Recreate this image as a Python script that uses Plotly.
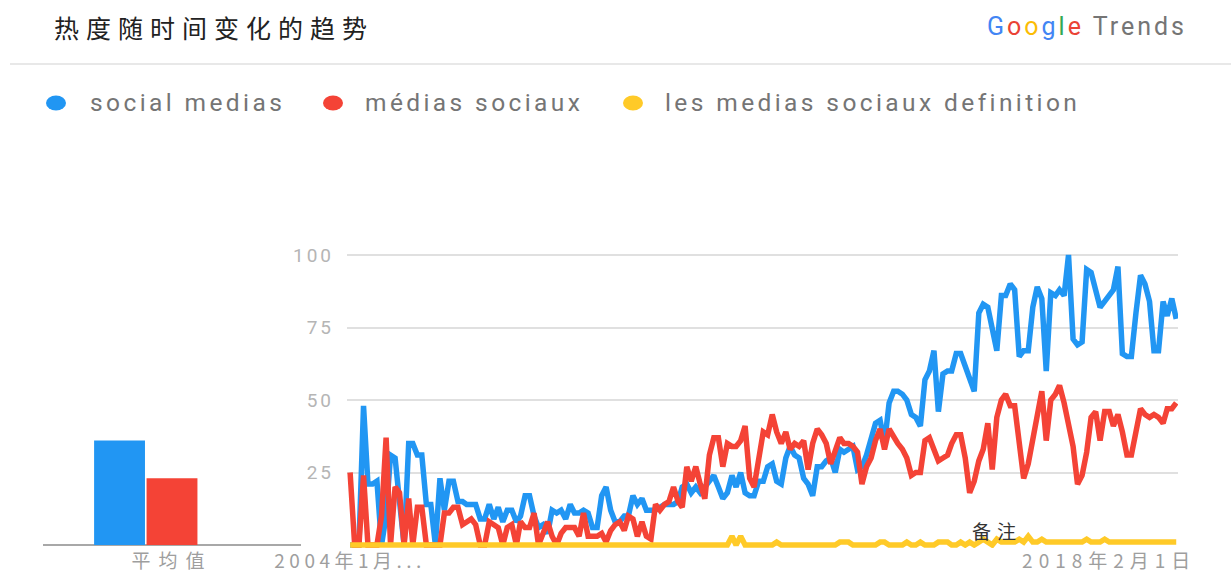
import pandas as pd
import plotly.graph_objects as go

# ---------------- data ----------------
months = pd.date_range("2004-01-01", periods=185, freq="MS")

social_medias = [
    0, 0, 0, 48, 21, 21, 22, 0, 10, 31, 30, 15, 0, 35, 35, 31, 31, 14, 14, 0,
    23, 12, 22, 22, 15, 15, 14, 14, 14, 9, 9, 14, 9, 13, 8, 12, 12, 8, 10, 17,
    17, 10, 6, 7, 4, 12, 11, 12, 9, 14, 11, 11, 12, 11, 6, 6, 17, 20, 12, 8,
    8, 10, 10, 17, 14, 16, 12, 12, 12, 13, 14, 14, 14, 15, 20, 21, 18, 20, 18, 20,
    22, 24, 20, 16, 18, 24, 20, 25, 18, 17, 17, 22, 22, 27, 28, 22, 21, 30, 34, 31,
    30, 23, 21, 17, 27, 27, 29, 30, 25, 33, 32, 33, 34, 26, 27, 31, 36, 42, 43, 35,
    49, 53, 53, 52, 50, 45, 44, 41, 57, 60, 67, 46, 59, 60, 60, 66, 66, 62, 57, 53,
    80, 83, 82, 74, 67, 86, 86, 90, 88, 65, 67, 67, 82, 89, 85, 60, 87, 86, 88, 86,
    100, 71, 69, 70, 95, 94, 88, 82, 84, 86, 88, 96, 66, 65, 65, 80, 93, 90, 84, 67,
    67, 84, 79, 85, 78,
]

medias_sociaux = [
    25, 0, 0, 24, 0, 0, 0, 10, 37, 0, 20, 18, 0, 16, 0, 13, 13, 0, 0, 0,
    0, 11, 11, 13, 13, 7, 8, 9, 7, 0, 0, 8, 7, 6, 0, 6, 7, 0, 8, 6,
    6, 11, 0, 4, 8, 3, 0, 4, 6, 6, 6, 3, 11, 3, 3, 3, 4, 1, 5, 7,
    8, 5, 10, 9, 3, 8, 3, 2, 14, 12, 14, 15, 20, 15, 13, 27, 22, 27, 21, 16,
    31, 37, 37, 27, 35, 34, 34, 36, 41, 23, 20, 30, 39, 38, 45, 39, 35, 39, 33, 35,
    34, 36, 26, 35, 40, 38, 35, 28, 32, 37, 35, 35, 34, 32, 21, 27, 30, 36, 40, 33,
    40, 37, 35, 33, 30, 24, 25, 25, 36, 37, 33, 29, 30, 31, 35, 38, 38, 30, 18, 22,
    29, 33, 42, 26, 44, 50, 52, 48, 48, 35, 23, 28, 36, 46, 53, 36, 50, 52, 55, 49,
    41, 34, 21, 24, 32, 44, 46, 36, 46, 46, 41, 45, 39, 31, 31, 38, 47, 45, 44, 45,
    44, 42, 47, 47, 49,
]

definition = [
    0, 0, 0, 0, 0, 0, 0, 0, 0, 0, 0, 0, 0, 0, 0, 0, 0, 0, 0, 0,
    0, 0, 0, 0, 0, 0, 0, 0, 0, 0, 0, 0, 0, 0, 0, 0, 0, 0, 0, 0,
    0, 0, 0, 0, 0, 0, 0, 0, 0, 0, 0, 0, 0, 0, 0, 0, 0, 0, 0, 0,
    0, 0, 0, 0, 0, 0, 0, 0, 0, 0, 0, 0, 0, 0, 0, 0, 0, 0, 0, 0,
    0, 0, 0, 0, 0, 3, 0, 3, 0, 0, 0, 0, 0, 0, 0, 1, 0, 0, 0, 0,
    0, 0, 0, 0, 0, 0, 0, 0, 0, 1, 1, 1, 0, 0, 0, 0, 0, 0, 1, 1,
    0, 0, 0, 0, 1, 0, 0, 1, 0, 0, 0, 1, 1, 1, 0, 0, 1, 0, 1, 0,
    1, 2, 1, 0, 2, 1, 1, 1, 1, 2, 1, 3, 1, 1, 2, 1, 1, 1, 1, 1,
    1, 1, 1, 1, 2, 1, 1, 1, 2, 1, 1, 1, 1, 1, 1, 1, 1, 1, 1, 1,
    1, 1, 1, 1, 1,
]

series_names = ["social medias", "médias sociaux", "les medias sociaux definition"]
series_colors = ["#2196F3", "#F44336", "#FFCA28"]

avg_category = ["平均值"]
avg_values = [36, 23, 0]

x_tick_vals = ["2004-01-01", "2018-02-01"]
x_tick_text = ["2004年1月...", "2018年2月1日"]
y_tick_vals = [25, 50, 75, 100]

assert len(social_medias) == len(medias_sociaux) == len(definition) == len(months)

# ---------------- figure ----------------
W, H = 1231, 574


def px(x):
    return x / W


def py(y):
    return 1 - y / H


def spaced(text, ls):
    return f'<span style="letter-spacing:{ls}px">{text}</span>'


fig = go.Figure()

# average bars (left)
for name, val, col in zip(series_names, avg_values, series_colors):
    fig.add_trace(go.Bar(x=avg_category, y=[val], name=name, marker_color=col,
                         marker_line_width=0, xaxis="x", yaxis="y",
                         showlegend=False, hoverinfo="skip"))

# time series lines
for name, vals, col in zip(series_names, [social_medias, medias_sociaux, definition], series_colors):
    fig.add_trace(go.Scatter(x=months, y=vals, name=name, mode="lines",
                             line=dict(color=col, width=5.5),
                             xaxis="x2", yaxis="y2", showlegend=False))

y_lo, y_hi = -1.0, 101.5
y_dom = [py(545 - y_lo * 2.9), py(255 - (y_hi - 100) * 2.9)]

fig.update_layout(
    template="none",
    width=W, height=H, autosize=False,
    margin=dict(l=0, r=0, t=0, b=0, pad=0),
    paper_bgcolor="white", plot_bgcolor="white",
    showlegend=False,
    barmode="group", bargap=0.39, bargroupgap=0.03,
    xaxis=dict(domain=[px(43), px(301)], type="category", range=[-0.5, 0.5],
               automargin=False, anchor="y",
               showgrid=False, showline=False, ticks="", zeroline=False,
               tickfont=dict(family="Noto Sans CJK SC", size=19, color="#9e9e9e"),
               tickvals=avg_category,
               ticktext=[spaced(t, 8) for t in avg_category]),
    yaxis=dict(domain=y_dom, range=[y_lo, y_hi], showgrid=False, automargin=False,
               anchor="x", showline=False, ticks="",
               showticklabels=False, zeroline=True, zerolinecolor="#a8a8a8",
               zerolinewidth=2),
    xaxis2=dict(domain=[px(347), px(1178)], type="date",
                range=["2003-12-11", "2019-05-13"], anchor="y2", automargin=False,
                showgrid=False, showline=False, ticks="", zeroline=False,
                tickvals=x_tick_vals,
                ticktext=[spaced(x_tick_text[0], 4.5), spaced(x_tick_text[1], 6)],
                tickfont=dict(family="Noto Sans CJK SC", size=19, color="#9e9e9e")),
    yaxis2=dict(domain=y_dom, range=[y_lo, y_hi], anchor="x2", automargin=False,
                tickvals=y_tick_vals, ticktext=[spaced(str(v), 3) for v in y_tick_vals],
                showgrid=True, gridcolor="#e0e0e0", gridwidth=1.5, showline=False,
                zeroline=False, ticks="", ticklabelstandoff=12,
                tickfont=dict(family="Roboto", size=19, color="#b5b5b5")),
)

shapes = []
annotations = []

# separator line
shapes.append(dict(type="line", xref="paper", yref="paper",
                   x0=px(10), x1=1, y0=py(64), y1=py(64),
                   line=dict(color="#e0e0e0", width=1.5)))

# title
annotations.append(dict(text=spaced("热度随时间变化的趋势", 7), x=px(52), y=py(27),
                        xref="paper", yref="paper", xanchor="left", yanchor="middle",
                        showarrow=False,
                        font=dict(family="Noto Sans CJK SC", size=25, color="#222222")))

# Google Trends logo
g_colors = ["#4285F4", "#EA4335", "#FBBC05", "#4285F4", "#34A853", "#EA4335"]
logo = "".join(f'<span style="color:{c}">{ch}</span>' for ch, c in zip("Google", g_colors))
logo = f'<span style="letter-spacing:3px">{logo}<span style="color:#757575"> Trends</span></span>'
annotations.append(dict(text=logo, x=px(1189), y=py(27), xref="paper", yref="paper",
                        xanchor="right", yanchor="middle", showarrow=False,
                        font=dict(family="Roboto", size=25)))

# custom legend
legend_dot_x = [56, 333, 633]
legend_text_x = [88, 363, 663]
for name, col, dx, tx in zip(series_names, series_colors, legend_dot_x, legend_text_x):
    shapes.append(dict(type="circle", xref="paper", yref="paper",
                       x0=px(dx - 10), x1=px(dx + 10), y0=py(103 + 7.5), y1=py(103 - 7.5),
                       fillcolor=col, line=dict(width=0)))
    annotations.append(dict(text=spaced(name, 3.4), x=px(tx), y=py(103), xref="paper",
                            yref="paper", xanchor="left", yanchor="middle",
                            showarrow=False,
                            font=dict(family="Roboto", size=24.5, color="#757575")))

# note label
annotations.append(dict(text=spaced("备注", 6), x=px(997), y=py(530), xref="paper",
                        yref="paper", xanchor="center", yanchor="middle", showarrow=False,
                        font=dict(family="Noto Sans CJK SC", size=19, color="#333333")))

fig.update_layout(shapes=shapes, annotations=annotations)

fig.write_html("out.html", config={"displayModeBar": False},
               post_script="document.body.style.margin='0';")
